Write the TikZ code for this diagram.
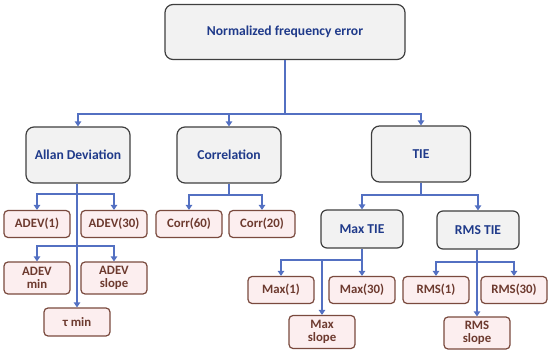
\documentclass[tikz,border=0pt]{standalone}
\usepackage{fontspec}
\setmainfont{Carlito}
\usepackage{xcolor}
\usepackage{tikz}
\usetikzlibrary{arrows.meta,positioning}
\definecolor{boxgray}{HTML}{F2F2F2}
\definecolor{boxline}{HTML}{3F3F3F}
\definecolor{navytext}{HTML}{1F3A8A}
\definecolor{pinkfill}{HTML}{FCEEEF}
\definecolor{brownline}{HTML}{7A4A3E}
\definecolor{browntext}{HTML}{6D3A2F}
\definecolor{linkblue}{HTML}{5370C2}

\begin{document}
\begin{tikzpicture}[
  x=1pt, y=-1pt,
  metric/.style={draw=boxline, line width=1.2pt, fill=boxgray, rounded corners=8pt, minimum width=104pt, minimum height=56pt, align=center, text=navytext, font=\fontsize{13.6}{15}\selectfont\bfseries},
  sub/.style   ={metric, rounded corners=6pt, minimum width=82pt, minimum height=38pt},
  leaf/.style  ={draw=brownline, line width=1.2pt, fill=pinkfill, rounded corners=4pt, minimum width=66pt, minimum height=27pt, inner sep=1pt, align=center, text=browntext, font=\fontsize{12.8}{13.5}\selectfont\bfseries},
  link/.style  ={draw=linkblue, line width=1.8pt},
  arr/.style   ={link, -{Triangle[length=5pt,width=6.5pt]}},
]
  \useasboundingbox (0,0) rectangle (550,353);

  \node[metric, minimum width=240pt, minimum height=55pt] (nfe) at (285,32) {Normalized frequency error};

  \node[metric]                     (allan) at (78,155)  {Allan Deviation};
  \node[metric]                     (corr)  at (229,155) {Correlation};
  \node[metric, minimum width=99pt] (tie)   at (421,154) {TIE};

  % Allan deviation
  \node[leaf] (adev1)  at (37,224)  {ADEV(1)};
  \node[leaf] (adev30) at (114,224) {ADEV(30)};
  \node[leaf, minimum height=32pt] (adevmin)   at (37,278)  {ADEV\\min};
  \node[leaf, minimum height=32pt] (adevslope) at (114,278) {ADEV\\slope};
  \node[leaf, minimum height=28pt] (taumin)    at (77,322)  {τ min};

  % correlation
  \node[leaf] (corr60) at (189,224) {Corr(60)};
  \node[leaf] (corr20) at (262,224) {Corr(20)};

  % TIE
  \node[sub] (maxtie) at (362,229) {Max TIE};
  \node[sub] (rmstie) at (478,230) {RMS TIE};

  \node[leaf] (max1)  at (281,290) {Max(1)};
  \node[leaf] (max30) at (362,290) {Max(30)};
  \node[leaf, minimum height=33pt] (maxslope) at (322,332) {Max\\slope};

  \node[leaf] (rms1)  at (436,290) {RMS(1)};
  \node[leaf] (rms30) at (514,290) {RMS(30)};
  \node[leaf, minimum height=32pt] (rmsslope) at (477,333) {RMS\\slope};

  \coordinate (top)  at (285,114);
  \coordinate (aj1)  at (77,194);
  \coordinate (aj2)  at (77,246);
  \coordinate (cj)   at (229,195);
  \coordinate (tj)   at (421,195);
  \coordinate (mj)   at (362,260);
  \coordinate (msj)  at (322,260);
  \coordinate (rj)   at (477,262);

  \draw[link] (nfe) -- (top);
  \draw[arr] (top) -| (allan);
  \draw[arr] (top) -| (corr);
  \draw[arr] (top) -| (tie);

  \draw[arr] (allan.south -| taumin) -- (taumin);
  \draw[arr] (aj1) -| (adev1);
  \draw[arr] (aj1) -| (adev30);
  \draw[arr] (aj2) -| (adevmin);
  \draw[arr] (aj2) -| (adevslope);

  \draw[link] (corr) -- (cj);
  \draw[arr] (cj) -| (corr60);
  \draw[arr] (cj) -| (corr20);

  \draw[link] (tie) -- (tj);
  \draw[arr] (tj) -| (maxtie);
  \draw[arr] (tj) -| (rmstie);

  \draw[arr] (maxtie) -- (max30);
  \draw[arr] (mj) -| (max1);
  \draw[arr] (msj) -- (maxslope);

  \draw[arr] (rmstie.south -| rmsslope) -- (rmsslope);
  \draw[arr] (rj) -| (rms1);
  \draw[arr] (rj) -| (rms30);
\end{tikzpicture}
\end{document}
